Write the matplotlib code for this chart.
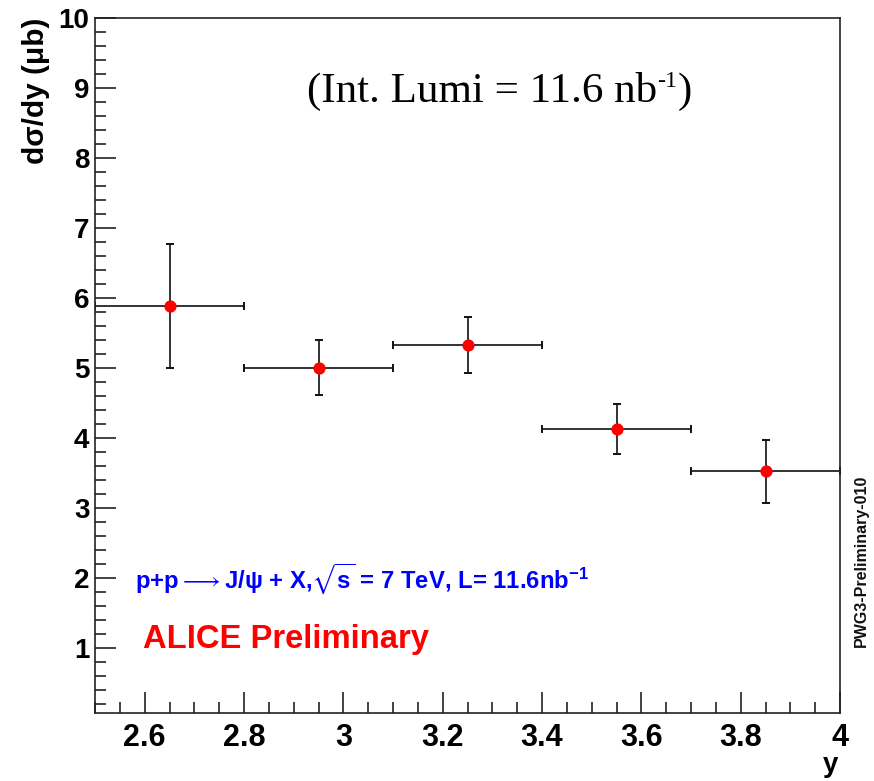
import numpy as np
import matplotlib
matplotlib.use("Agg")
import matplotlib.pyplot as plt
from matplotlib.ticker import MultipleLocator, FormatStrFormatter
from matplotlib.transforms import offset_copy

# J/psi differential cross section vs rapidity
bin_low = [2.5, 2.8, 3.1, 3.4, 3.7]
bin_high = [2.8, 3.1, 3.4, 3.7, 4.0]
dsigma_dy = [5.89, 5.01, 5.33, 4.13, 3.53]
dsigma_err = [0.89, 0.39, 0.40, 0.36, 0.45]

x_tick_values = [2.6, 2.8, 3.0, 3.2, 3.4, 3.6, 3.8, 4.0]
y_tick_values = [1, 2, 3, 4, 5, 6, 7, 8, 9, 10]

lo = np.array(bin_low)
hi = np.array(bin_high)
centers = 0.5 * (lo + hi)
half_width = 0.5 * (hi - lo)

plt.rcParams["mathtext.fontset"] = "custom"
plt.rcParams["mathtext.rm"] = "Liberation Sans:bold"
plt.rcParams["mathtext.it"] = "Liberation Sans:bold"
plt.rcParams["mathtext.bf"] = "Liberation Sans:bold"
plt.rcParams["mathtext.sf"] = "Liberation Sans:bold"
plt.rcParams["mathtext.fallback"] = "stixsans"

SANS = ["Liberation Sans", "DejaVu Sans"]
SERIF = ["Liberation Serif", "DejaVu Serif"]

W, H = 874, 781
fig = plt.figure(figsize=(W / 100, H / 100), dpi=100)
ax = fig.add_axes([95 / W, 1 - 713.3 / H, (840 - 95) / W, (713.3 - 18.3) / H])

# error bars with end caps, then the red points on top
ax.errorbar(centers, dsigma_dy, xerr=half_width, yerr=dsigma_err,
            fmt="none", ecolor="#111111", elinewidth=1.2,
            capsize=2.8, capthick=1.4, zorder=2)
ax.plot(centers, dsigma_dy, "o", color="red", markersize=8.8,
        markeredgewidth=0, zorder=3)

ax.set_xlim(2.5, 4.0)
ax.set_ylim(0.07, 10.0)

ax.set_xticks(x_tick_values)
ax.xaxis.set_major_formatter(FormatStrFormatter("%g"))
ax.xaxis.set_minor_locator(MultipleLocator(0.05))
ax.set_yticks(y_tick_values)
ax.yaxis.set_minor_locator(MultipleLocator(0.2))

ax.tick_params(which="both", direction="in", width=1.2, colors="#222222")
ax.tick_params(which="major", length=15)
ax.tick_params(which="minor", length=8)
ax.tick_params(axis="y", which="major", pad=4, labelcolor="black")
ax.tick_params(axis="x", which="major", pad=7, labelcolor="black")

for lab in ax.get_yticklabels():
    lab.set_family(SANS)
    lab.set_weight("bold")
    lab.set_fontsize(20)
for lab in ax.get_xticklabels():
    lab.set_family(SANS)
    lab.set_weight("bold")
    lab.set_fontsize(22)

for s in ax.spines.values():
    s.set_linewidth(1.2)
    s.set_color("#222222")

# axis titles
fig.text(36 / W, 1 - 18 / H, "d\u03c3/dy (\u03bcb)", rotation=90, ha="center", va="top",
         fontsize=21.5, fontweight="bold", family=SANS)
fig.text(838 / W, 1 - 772 / H, "y", ha="right", va="baseline",
         fontsize=20, fontweight="bold", family=SANS)

# luminosity caption, assembled piece by piece for the small raised exponent
fig.canvas.draw()
renderer = fig.canvas.get_renderer()
pieces = [("(Int. Lumi = 11.6 nb", 31, 0), ("-1", 17.5, 15), (")", 31, 0)]
x_px, base_px = 307.0, H - 102.0
for txt, size, rise in pieces:
    t = fig.text(0, 0, txt, ha="left", va="baseline", fontsize=size, family=SERIF,
                 transform=offset_copy(fig.transFigure, fig=fig,
                                       x=x_px * 72 / 100, y=(base_px + rise) * 72 / 100,
                                       units="points"))
    x_px += t.get_window_extent(renderer).width

fig.text(135 / W, 1 - 588 / H,
         "p+p$\\longrightarrow$J/\u03c8 + X,$\\sqrt{s}$ = 7 TeV, L= 11.6nb$^{-1}$",
         ha="left", va="baseline", fontsize=17.2, fontweight="bold", color="#0000ff",
         family=SANS)
fig.text(143 / W, 1 - 648 / H, "ALICE Preliminary", ha="left", va="baseline",
         fontsize=23.6, fontweight="bold", color="#ff0000", family=SANS)
fig.text(861 / W, 1 - 647 / H, "PWG3-Preliminary-010", rotation=90, ha="center", va="bottom",
         fontsize=11.5, fontweight="bold", color="#111111", family=SANS)

fig.savefig("out.png", dpi=100, facecolor="white")
